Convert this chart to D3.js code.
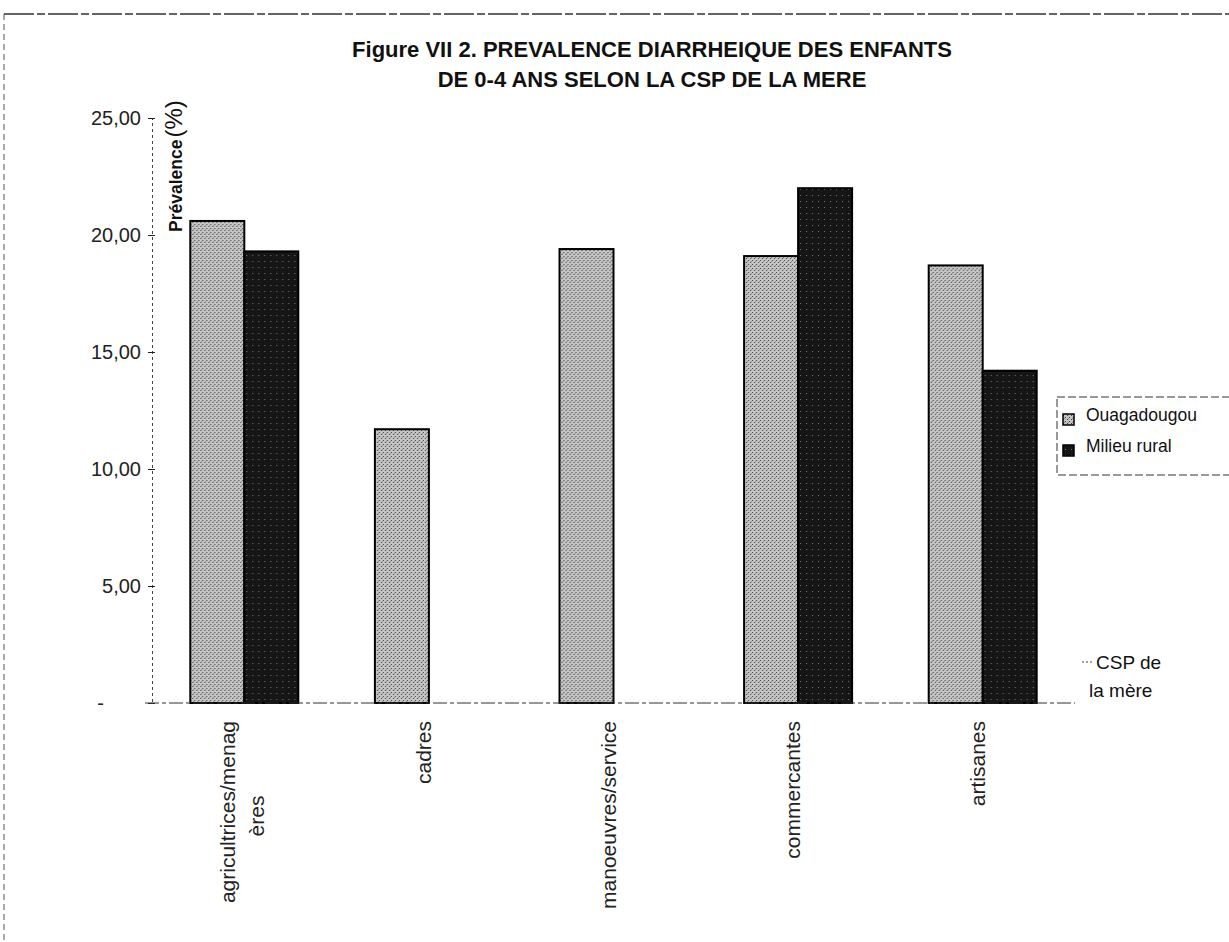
<!DOCTYPE html>
<html>
<head>
<meta charset="utf-8">
<script src="https://cdn.jsdelivr.net/npm/d3@7"></script>
<style>
  html, body { margin: 0; padding: 0; background: #fff; }
  svg { display: block; font-family: "Liberation Sans", Arial, sans-serif; }
</style>
</head>
<body>
<svg id="chart" width="1229" height="942"></svg>
<script>
const categories = ["agricultrices/menag\nères", "cadres", "manoeuvres/service", "commercantes", "artisanes"];
const seriesNames = ["Ouagadougou", "Milieu rural"];
const ouagaValues = [20.6, 11.7, 19.4, 19.1, 18.7];
const ruralValues = [19.3, null, null, 22.0, 14.2];
const yTicks = [0, 5, 10, 15, 20, 25];
const yTickLabels = ["-", "5,00", "10,00", "15,00", "20,00", "25,00"];
const titleLines = ["Figure VII 2. PREVALENCE DIARRHEIQUE DES ENFANTS", "DE 0-4 ANS SELON LA CSP DE LA MERE"];

const svg = d3.select("#chart");

// stipple patterns imitating the scanned fills
const defs = svg.append("defs");
const pO = defs.append("pattern").attr("id", "patO").attr("patternUnits", "userSpaceOnUse")
  .attr("width", 4).attr("height", 4);
pO.append("rect").attr("width", 4).attr("height", 4).attr("fill", "#c4c4c4");
pO.append("rect").attr("x", 0).attr("y", 0).attr("width", 1).attr("height", 1).attr("fill", "#4a4a4a");
pO.append("rect").attr("x", 2).attr("y", 2).attr("width", 1).attr("height", 1).attr("fill", "#4a4a4a");
pO.append("rect").attr("x", 3).attr("y", 1).attr("width", 1).attr("height", 1).attr("fill", "#888");
const pR = defs.append("pattern").attr("id", "patR").attr("patternUnits", "userSpaceOnUse")
  .attr("width", 6).attr("height", 6);
pR.append("rect").attr("width", 6).attr("height", 6).attr("fill", "#161616");
pR.append("rect").attr("x", 2).attr("y", 3).attr("width", 1).attr("height", 1).attr("fill", "#777");

const colors = { "Ouagadougou": "url(#patO)", "Milieu rural": "url(#patR)" };

// outer frame (dashed, scanned look)
svg.append("line").attr("x1", 4).attr("x2", 1229).attr("y1", 14).attr("y2", 14)
  .attr("stroke", "#333").attr("stroke-width", 1.3).attr("stroke-dasharray", "30,3,8,3");
svg.append("line").attr("x1", 4).attr("x2", 4).attr("y1", 14).attr("y2", 942)
  .attr("stroke", "#555").attr("stroke-width", 1).attr("stroke-dasharray", "6,4");

// title
svg.append("g").selectAll("text").data(titleLines).join("text")
  .attr("x", 652).attr("y", (d, i) => 57 + i * 30)
  .attr("text-anchor", "middle").attr("font-size", 22).attr("font-weight", "bold")
  .attr("fill", "#111").text(d => d);

const y = d3.scaleLinear().domain([0, 25]).range([703, 118]);
const x0 = d3.scaleBand().domain(categories).range([152, 1075]).paddingInner(0).paddingOuter(0);
const groupW = x0.bandwidth() * 0.585;
const x1 = d3.scaleBand().domain(seriesNames).range([0, groupW]).padding(0);

// y axis
const yAxis = d3.axisLeft(y).tickValues(yTicks).tickSize(4).tickFormat(() => "");
const gy = svg.append("g").attr("transform", "translate(152,0)").call(yAxis);
gy.select(".domain").attr("stroke", "#444").attr("stroke-dasharray", "3,3");
gy.selectAll(".tick line").attr("x2", 3).attr("x1", -4).attr("stroke", "#222");
svg.append("g").selectAll("text").data(yTicks).join("text")
  .attr("x", d => d === 0 ? 104 : 141).attr("y", d => y(d) + 7)
  .attr("text-anchor", "end").attr("font-size", 20).attr("fill", "#222")
  .text((d, i) => yTickLabels[i]);

// bars
const rows = categories.map((c, i) => ({ cat: c, values: [
  { s: "Ouagadougou", v: ouagaValues[i] },
  { s: "Milieu rural", v: ruralValues[i] }
].filter(d => d.v !== null) }));

const groups = svg.append("g").selectAll("g").data(rows).join("g")
  .attr("transform", d => `translate(${x0(d.cat) + x0.bandwidth() / 2 - groupW / 2},0)`);
groups.selectAll("rect").data(d => d.values).join("rect")
  .attr("x", d => x1(d.s))
  .attr("y", d => y(d.v))
  .attr("width", x1.bandwidth())
  .attr("height", d => y(0) - y(d.v))
  .attr("fill", d => colors[d.s])
  .attr("stroke", "#000").attr("stroke-width", 2);

// x axis
svg.append("line").attr("x1", 145).attr("x2", 1075).attr("y1", y(0)).attr("y2", y(0))
  .attr("stroke", "#333").attr("stroke-width", 1.2).attr("stroke-dasharray", "14,3,4,3");

// category labels (rotated)
const catG = svg.append("g").selectAll("text").data(categories).join("text")
  .attr("transform", d => {
    const cx = x0(d) + x0.bandwidth() / 2;
    const multi = d.split("\n").length > 1;
    return `translate(${cx + (multi ? -9 : 2)},721) rotate(-90)`;
  })
  .attr("font-size", 21).attr("fill", "#222");
catG.each(function(d) {
  const t = d3.select(this);
  const lines = d.split("\n");
  if (lines.length === 1) {
    t.attr("text-anchor", "end").text(lines[0]);
  } else {
    t.append("tspan").attr("x", 0).attr("y", 0).attr("text-anchor", "end").text(lines[0]);
    t.append("tspan").attr("x", -95).attr("y", 29).attr("text-anchor", "middle").text(lines[1]);
  }
});

// y axis title
const yt = svg.append("text").attr("transform", "translate(182,232) rotate(-90)")
  .attr("font-size", 17.5).attr("font-weight", "bold").attr("fill", "#111");
yt.append("tspan").text("Prévalence");
yt.append("tspan").attr("font-weight", "normal").attr("font-size", 24).attr("dx", 2).text("(%)");

// x axis title
svg.append("line").attr("x1", 1082).attr("x2", 1094).attr("y1", 662).attr("y2", 662)
  .attr("stroke", "#444").attr("stroke-dasharray", "2,2");
svg.append("text").attr("x", 1096).attr("y", 669).attr("font-size", 19).attr("fill", "#111").text("CSP de");
svg.append("text").attr("x", 1089).attr("y", 697).attr("font-size", 19).attr("fill", "#111").text("la mère");

// legend
const lg = svg.append("g").attr("transform", "translate(1057,397)");
lg.append("rect").attr("x", 0).attr("y", 0).attr("width", 180).attr("height", 78)
  .attr("fill", "#fff").attr("stroke", "#333").attr("stroke-dasharray", "8,3");
const li = lg.selectAll("g").data(seriesNames).join("g")
  .attr("transform", (d, i) => `translate(0,${24 + i * 31})`);
li.append("rect").attr("x", 6).attr("y", -7).attr("width", 11).attr("height", 11)
  .attr("fill", d => colors[d]).attr("stroke", "#000").attr("stroke-width", 1.5);
li.append("text").attr("x", 29).attr("y", 0).attr("font-size", 17.5).attr("fill", "#111").text(d => d);
</script>
</body>
</html>
